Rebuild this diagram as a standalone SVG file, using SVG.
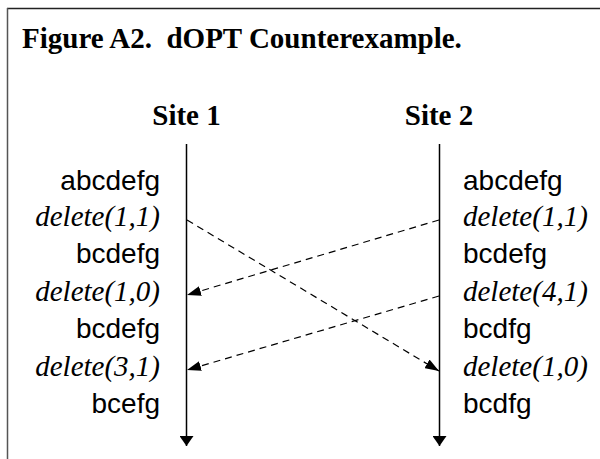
<svg xmlns="http://www.w3.org/2000/svg" width="600" height="459" viewBox="0 0 600 459">
  <style>
    .title { font-family: "Liberation Serif", "Times New Roman", serif; font-weight: bold; font-size: 29px; fill: #000; }
    .state { font-family: "Liberation Sans", Arial, sans-serif; font-size: 28px; fill: #000; }
    .op { font-family: "Liberation Serif", "Times New Roman", serif; font-style: italic; font-size: 29px; fill: #000; }
    .left { text-anchor: end; }
    .timeline { stroke: #000; stroke-width: 1.5; fill: none; }
    .msg { stroke: #000; stroke-width: 1.2; stroke-dasharray: 7 5; fill: none; }
  </style>
  <defs>
    <marker id="solidHead" viewBox="0 0 10 14" refX="10" refY="7" markerWidth="10" markerHeight="14" markerUnits="userSpaceOnUse" orient="auto">
      <path d="M0,0 L10,7 L0,14 Z" fill="#000"/>
    </marker>
    <marker id="msgHead" viewBox="0 0 14 10" refX="14" refY="5" markerWidth="14" markerHeight="10" markerUnits="userSpaceOnUse" orient="auto">
      <path d="M0,0 L14,5 L0,10 Z" fill="#000"/>
    </marker>
  </defs>

  <rect width="600" height="459" fill="#fff"/>

  <!-- frame edges -->
  <line x1="7" y1="8.5" x2="600" y2="8.5" stroke="#222" stroke-width="1.5"/>
  <line x1="7.5" y1="8" x2="7.5" y2="459" stroke="#555" stroke-width="1.5"/>

  <text class="title" x="22" y="48" xml:space="preserve">Figure A2.  dOPT Counterexample.</text>

  <g id="site1">
    <text class="title" x="186.5" y="125" text-anchor="middle">Site 1</text>
    <line class="timeline" x1="186.5" y1="144" x2="186.5" y2="446" marker-end="url(#solidHead)"/>
    <text class="state left" x="160" y="190">abcdefg</text>
    <text class="op left" x="160" y="226">delete(1,1)</text>
    <text class="state left" x="160" y="263">bcdefg</text>
    <text class="op left" x="160" y="301">delete(1,0)</text>
    <text class="state left" x="160" y="338">bcdefg</text>
    <text class="op left" x="160" y="376">delete(3,1)</text>
    <text class="state left" x="160" y="413">bcefg</text>
  </g>

  <g id="site2">
    <text class="title" x="439" y="125" text-anchor="middle">Site 2</text>
    <line class="timeline" x1="439.5" y1="144" x2="439.5" y2="446" marker-end="url(#solidHead)"/>
    <text class="state" x="463" y="190">abcdefg</text>
    <text class="op" x="463" y="226">delete(1,1)</text>
    <text class="state" x="463" y="263">bcdefg</text>
    <text class="op" x="463" y="301">delete(4,1)</text>
    <text class="state" x="463" y="338">bcdfg</text>
    <text class="op" x="463" y="376">delete(1,0)</text>
    <text class="state" x="463" y="413">bcdfg</text>
  </g>

  <g id="connectors">
    <line class="msg" x1="187" y1="220" x2="439" y2="371" marker-end="url(#msgHead)"/>
    <line class="msg" x1="439" y1="220" x2="187" y2="295" marker-end="url(#msgHead)"/>
    <line class="msg" x1="439" y1="296" x2="187" y2="370" marker-end="url(#msgHead)"/>
  </g>
</svg>
